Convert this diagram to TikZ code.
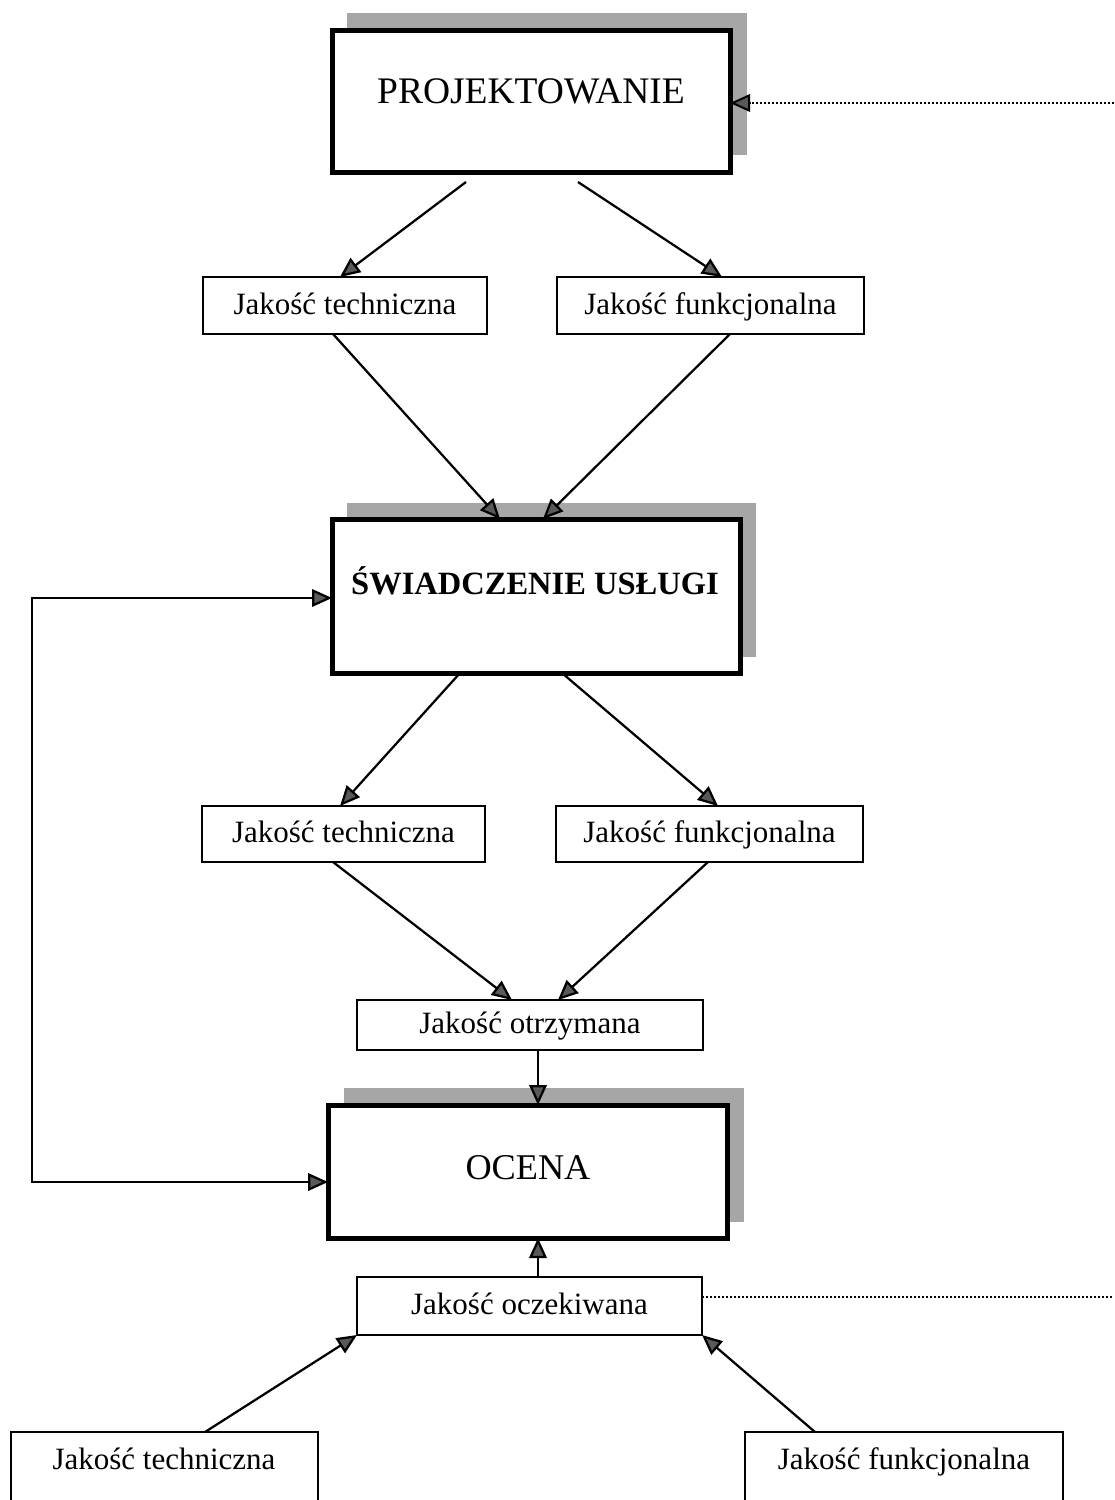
\documentclass[tikz,border=0pt]{standalone}
\usepackage{fontspec}
\setmainfont{Liberation Serif}
\usetikzlibrary{arrows.meta,calc}
\begin{document}
\begin{tikzpicture}[x=0.4pt,y=-0.4pt,
  wh/.style 2 args={minimum width=#1*0.4pt, minimum height=#2*0.4pt},
  bigbox/.style={draw=black, line width=2pt, fill=white, inner sep=0pt, outer sep=0pt},
  sbox/.style={draw=black, line width=0.8pt, fill=white, inner sep=0pt, outer sep=0pt, text height=0.9em, text depth=0.2em, font=\fontsize{12.4}{14}\selectfont},
  shad/.style={fill=black!35},
  tipc/.tip={Triangle[length=8pt,width=7pt,fill=black!65]},
  arr/.style={line width=0.9pt, -tipc},
  arrb/.style={line width=0.9pt, tipc-tipc},
  dots/.style={line width=0.7pt, dash pattern=on 0.7pt off 0.9pt},
  txt/.style={inner sep=0pt, text height=0.66em, text depth=0pt}]
\useasboundingbox (0,0) rectangle (1114,1500);
\clip (0,0) rectangle (1114,1500);

% main boxes (shadow first)
\fill[shad] (347,13) rectangle (747,155);
\node[bigbox, wh={398}{142}] (proj) at (531,101) {};
\node[txt, font=\fontsize{15}{17}\selectfont] (projt) at (531,95) {PROJEKTOWANIE};

\fill[shad] (347,503) rectangle (756,657);
\node[bigbox, wh={408}{154}] (swiad) at (536,596) {};
\node[txt, font=\fontsize{13}{15}\selectfont\bfseries] (swiadt) at (535,586) {ŚWIADCZENIE USŁUGI};

\fill[shad] (344,1088) rectangle (744,1222);
\node[bigbox, wh={399}{133}] (ocena) at (527.5,1171.5) {};
\node[txt, font=\fontsize{14.5}{16}\selectfont] (ocenat) at (528,1171) {OCENA};

% small boxes
\node[sbox, wh={284}{57}] (t1) at (345,305.5) {Jakość techniczna};
\node[sbox, wh={307}{57}] (f1) at (710.5,305.5) {Jakość funkcjonalna};
\node[sbox, wh={283}{56}] (t2) at (343.5,834) {Jakość techniczna};
\node[sbox, wh={307}{56}] (f2) at (709.5,834) {Jakość funkcjonalna};
\node[sbox, wh={346}{50}] (otrz) at (530,1025) {Jakość otrzymana};
\node[sbox, wh={345}{58}] (oczek) at (529.5,1306) {Jakość oczekiwana};

% bottom boxes (cut by the page edge)
\node[sbox, wh={307}{120}, anchor=north] (bt) at (164.5,1432) {};
\node[txt, font=\fontsize{12.4}{14}\selectfont] (btt) at (164,1461) {Jakość techniczna};
\node[sbox, wh={318}{120}, anchor=north] (bf) at (904,1432) {};
\node[txt, font=\fontsize{12.4}{14}\selectfont] (bft) at (904,1461) {Jakość funkcjonalna};

% connectors
\draw[arr] ($(proj.south)+(-65,10)$) -- ($(t1.north)+(-5,0)$);
\draw[arr] ($(proj.south)+(47,10)$) -- ($(f1.north)+(11.5,0)$);
\draw[arr] ($(t1.south)+(-12,0)$) -- ($(swiad.north)+(-36,0)$);
\draw[arr] ($(f1.south)+(19.5,0)$) -- ($(swiad.north)+(7,0)$);
\draw[arr] ($(swiad.south)+(-76,0)$) -- ($(t2.north)+(-3.5,0)$);
\draw[arr] ($(swiad.south)+(26,0)$) -- ($(f2.north)+(8.5,0)$);
\draw[arr] ($(t2.south)+(-10.5,0)$) -- ($(otrz.north)+(-18,0)$);
\draw[arr] ($(f2.south)+(-1.5,0)$) -- ($(otrz.north)+(28,0)$);
\draw[arr] ($(otrz.south)+(8,0)$) -- ($(ocena.north)+(10.5,0)$);
\draw[arr] ($(oczek.north)+(8.5,0)$) -- ($(ocena.south)+(10.5,0)$);
\draw[arr] ($(bt.north)+(40.5,0)$) -- (oczek.south west);
\draw[arr] ($(bf.north)+(-89,0)$) -- (oczek.south east);

% feedback loop
\coordinate (lt) at (32,598);
\coordinate (lb) at (32,1182);
\draw[arrb] (lt -| swiad.west) -- (lt) -- (lb) -- (lb -| ocena.west);

% dotted lines
\coordinate (rt) at (1114,103);
\coordinate (rb) at (1114,1297);
\draw[dots] (rt) -- ($(proj.east)+(12,2)$);
\draw[line width=0.8pt, -tipc] ($(proj.east)+(20,2)$) -- ($(proj.east)+(0,2)$);
\draw[dots] ($(oczek.east)+(0,-9)$) -- (rb);
\end{tikzpicture}
\end{document}
